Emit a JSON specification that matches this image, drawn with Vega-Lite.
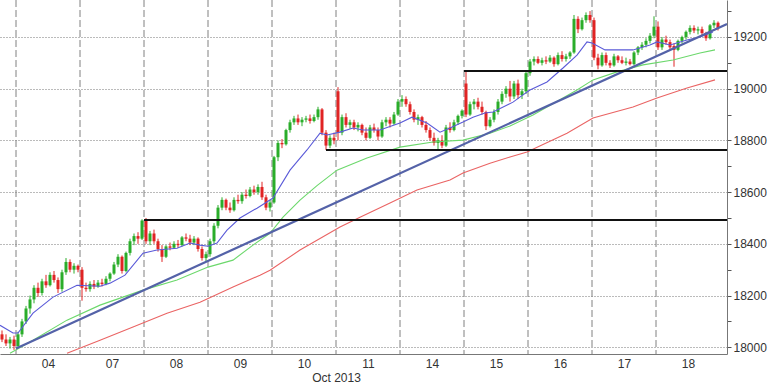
{
 "$schema": "https://vega.github.io/schema/vega-lite/v6.json",
 "width": 727, "height": 354,
 "autosize": {"type": "none"},
 "padding": {"left": 0, "top": 0, "right": 41, "bottom": 30},
 "background": "white",
 "config": {"view": {"stroke": null}, "font": "Liberation Sans",
  "axisY": {"gridDash": [1, 2], "gridColor": "#777", "tickSize": 4, "tickColor": "#555", "domainColor": "#777", "labelColor": "#333", "labelFontSize": 12, "labelFont": "Liberation Sans", "labelPadding": 2}},
 "datasets": {
  "days": [{"i":-0.5},{"i":15.5},{"i":31.5},{"i":47.5},{"i":63.5},{"i":79.5},{"i":95.5},{"i":111.5},{"i":127.5},{"i":143.5},{"i":159.5}],
  "levels": [{"i":31.5,"i2":177.25,"p":18492},{"i":77,"i2":177.25,"p":18763},{"i":111.5,"i2":177.25,"p":19068}],
  "trend": [{"i":-0.5,"p":17995},{"i":177.25,"p":19250}],
  "ma": [
   {"i":-4.5,"p":18085,"s":"a"},{"i":-1.25,"p":18055,"s":"a"},{"i":0,"p":18055,"s":"a"},{"i":3.75,"p":18132,"s":"a"},{"i":8.75,"p":18194,"s":"a"},{"i":14.75,"p":18240,"s":"a"},{"i":20.5,"p":18236,"s":"a"},{"i":23,"p":18248,"s":"a"},{"i":26.75,"p":18279,"s":"a"},{"i":31.25,"p":18364,"s":"a"},{"i":34.75,"p":18376,"s":"a"},{"i":39.75,"p":18383,"s":"a"},{"i":43,"p":18403,"s":"a"},{"i":45.5,"p":18395,"s":"a"},{"i":47.5,"p":18391,"s":"a"},{"i":49.75,"p":18403,"s":"a"},{"i":52.25,"p":18453,"s":"a"},{"i":55.5,"p":18500,"s":"a"},{"i":59.75,"p":18538,"s":"a"},{"i":63.75,"p":18577,"s":"a"},{"i":68,"p":18685,"s":"a"},{"i":72.25,"p":18763,"s":"a"},{"i":75.5,"p":18828,"s":"a"},{"i":77.25,"p":18821,"s":"a"},{"i":80.5,"p":18832,"s":"a"},{"i":83.75,"p":18848,"s":"a"},{"i":86.25,"p":18840,"s":"a"},{"i":90.5,"p":18840,"s":"a"},{"i":95.5,"p":18867,"s":"a"},{"i":98.5,"p":18890,"s":"a"},{"i":102.25,"p":18867,"s":"a"},{"i":105.5,"p":18832,"s":"a"},{"i":108,"p":18848,"s":"a"},{"i":111.25,"p":18871,"s":"a"},{"i":113.75,"p":18890,"s":"a"},{"i":116.75,"p":18906,"s":"a"},{"i":118.75,"p":18910,"s":"a"},{"i":123.75,"p":18948,"s":"a"},{"i":126.25,"p":18976,"s":"a"},{"i":128,"p":18995,"s":"a"},{"i":132.25,"p":19026,"s":"a"},{"i":136.25,"p":19080,"s":"a"},{"i":139.75,"p":19130,"s":"a"},{"i":142.25,"p":19181,"s":"a"},{"i":143.5,"p":19177,"s":"a"},{"i":146.75,"p":19150,"s":"a"},{"i":149.75,"p":19150,"s":"a"},{"i":153.75,"p":19150,"s":"a"},{"i":158,"p":19169,"s":"a"},{"i":159.75,"p":19181,"s":"a"},{"i":163,"p":19169,"s":"a"},{"i":167.25,"p":19188,"s":"a"},{"i":170.5,"p":19200,"s":"a"},{"i":173.75,"p":19219,"s":"a"},
   {"i":-2,"p":17977,"s":"b"},{"i":3.75,"p":18027,"s":"b"},{"i":12.25,"p":18105,"s":"b"},{"i":20.5,"p":18163,"s":"b"},{"i":31.25,"p":18221,"s":"b"},{"i":39.75,"p":18260,"s":"b"},{"i":47.5,"p":18310,"s":"b"},{"i":53.75,"p":18337,"s":"b"},{"i":58.75,"p":18395,"s":"b"},{"i":63,"p":18441,"s":"b"},{"i":66.25,"p":18503,"s":"b"},{"i":70.5,"p":18569,"s":"b"},{"i":74.75,"p":18625,"s":"b"},{"i":79.75,"p":18685,"s":"b"},{"i":87.25,"p":18732,"s":"b"},{"i":95.5,"p":18774,"s":"b"},{"i":103.75,"p":18794,"s":"b"},{"i":111.25,"p":18801,"s":"b"},{"i":118,"p":18828,"s":"b"},{"i":123,"p":18856,"s":"b"},{"i":128.75,"p":18898,"s":"b"},{"i":139.75,"p":18995,"s":"b"},{"i":143.75,"p":19034,"s":"b"},{"i":149.75,"p":19065,"s":"b"},{"i":156.25,"p":19092,"s":"b"},{"i":163.75,"p":19111,"s":"b"},{"i":170.5,"p":19138,"s":"b"},{"i":174.25,"p":19150,"s":"b"},
   {"i":12.25,"p":17977,"s":"c"},{"i":20.5,"p":18027,"s":"c"},{"i":28.75,"p":18078,"s":"c"},{"i":37.25,"p":18132,"s":"c"},{"i":45.5,"p":18174,"s":"c"},{"i":53.75,"p":18233,"s":"c"},{"i":60.5,"p":18279,"s":"c"},{"i":63,"p":18298,"s":"c"},{"i":70.5,"p":18376,"s":"c"},{"i":80.5,"p":18465,"s":"c"},{"i":85.5,"p":18503,"s":"c"},{"i":93,"p":18558,"s":"c"},{"i":99.75,"p":18608,"s":"c"},{"i":108,"p":18647,"s":"c"},{"i":111.25,"p":18674,"s":"c"},{"i":118,"p":18712,"s":"c"},{"i":123,"p":18736,"s":"c"},{"i":127.25,"p":18755,"s":"c"},{"i":137.25,"p":18828,"s":"c"},{"i":143.75,"p":18887,"s":"c"},{"i":153.75,"p":18929,"s":"c"},{"i":159.75,"p":18964,"s":"c"},{"i":167.25,"p":19003,"s":"c"},{"i":174.25,"p":19034,"s":"c"}
  ],
  "candles": [
   {"i":-4,"o":18050,"h":18065,"l":18020,"c":18030},{"i":-3,"o":18030,"h":18050,"l":18005,"c":18015},{"i":-2,"o":18015,"h":18040,"l":17995,"c":18030},{"i":-1,"o":18030,"h":18045,"l":17990,"c":18005},
   {"i":0,"o":18005,"h":18060,"l":17995,"c":18050},{"i":1,"o":18050,"h":18110,"l":18040,"c":18100},{"i":2,"o":18100,"h":18160,"l":18090,"c":18150},{"i":3,"o":18150,"h":18200,"l":18130,"c":18185},{"i":4,"o":18185,"h":18240,"l":18170,"c":18230},{"i":5,"o":18230,"h":18250,"l":18195,"c":18210},{"i":6,"o":18210,"h":18265,"l":18200,"c":18255},{"i":7,"o":18255,"h":18280,"l":18230,"c":18240},{"i":8,"o":18240,"h":18290,"l":18235,"c":18280},{"i":9,"o":18280,"h":18295,"l":18250,"c":18260},{"i":10,"o":18260,"h":18270,"l":18210,"c":18225},{"i":11,"o":18225,"h":18300,"l":18215,"c":18290},{"i":12,"o":18290,"h":18345,"l":18280,"c":18330},{"i":13,"o":18330,"h":18340,"l":18290,"c":18300},{"i":14,"o":18300,"h":18325,"l":18285,"c":18315},{"i":15,"o":18315,"h":18320,"l":18290,"c":18300},
   {"i":16,"o":18300,"h":18310,"l":18180,"c":18230},{"i":17,"o":18230,"h":18250,"l":18215,"c":18225},{"i":18,"o":18225,"h":18255,"l":18215,"c":18245},{"i":19,"o":18245,"h":18260,"l":18225,"c":18235},{"i":20,"o":18235,"h":18260,"l":18230,"c":18250},{"i":21,"o":18250,"h":18265,"l":18235,"c":18245},{"i":22,"o":18245,"h":18275,"l":18240,"c":18265},{"i":23,"o":18265,"h":18290,"l":18255,"c":18285},{"i":24,"o":18285,"h":18330,"l":18280,"c":18320},{"i":25,"o":18320,"h":18360,"l":18310,"c":18350},{"i":26,"o":18350,"h":18355,"l":18285,"c":18295},{"i":27,"o":18295,"h":18370,"l":18290,"c":18365},{"i":28,"o":18365,"h":18420,"l":18355,"c":18410},{"i":29,"o":18410,"h":18440,"l":18395,"c":18430},{"i":30,"o":18430,"h":18445,"l":18400,"c":18420},{"i":31,"o":18420,"h":18495,"l":18415,"c":18490},
   {"i":32,"o":18490,"h":18500,"l":18400,"c":18410},{"i":33,"o":18410,"h":18450,"l":18395,"c":18440},{"i":34,"o":18440,"h":18455,"l":18400,"c":18410},{"i":35,"o":18410,"h":18420,"l":18370,"c":18380},{"i":36,"o":18380,"h":18395,"l":18330,"c":18350},{"i":37,"o":18350,"h":18395,"l":18345,"c":18390},{"i":38,"o":18390,"h":18405,"l":18375,"c":18385},{"i":39,"o":18385,"h":18410,"l":18380,"c":18400},{"i":40,"o":18400,"h":18415,"l":18385,"c":18395},{"i":41,"o":18395,"h":18430,"l":18390,"c":18425},{"i":42,"o":18425,"h":18440,"l":18410,"c":18420},{"i":43,"o":18420,"h":18435,"l":18395,"c":18405},{"i":44,"o":18405,"h":18430,"l":18395,"c":18420},{"i":45,"o":18420,"h":18425,"l":18370,"c":18380},{"i":46,"o":18380,"h":18390,"l":18335,"c":18345},{"i":47,"o":18345,"h":18370,"l":18330,"c":18360},
   {"i":48,"o":18360,"h":18420,"l":18350,"c":18410},{"i":49,"o":18410,"h":18480,"l":18400,"c":18470},{"i":50,"o":18470,"h":18550,"l":18460,"c":18540},{"i":51,"o":18540,"h":18580,"l":18530,"c":18570},{"i":52,"o":18570,"h":18575,"l":18530,"c":18540},{"i":53,"o":18540,"h":18560,"l":18520,"c":18530},{"i":54,"o":18530,"h":18580,"l":18525,"c":18570},{"i":55,"o":18570,"h":18590,"l":18555,"c":18565},{"i":56,"o":18565,"h":18600,"l":18555,"c":18590},{"i":57,"o":18590,"h":18610,"l":18575,"c":18585},{"i":58,"o":18585,"h":18620,"l":18580,"c":18610},{"i":59,"o":18610,"h":18625,"l":18590,"c":18600},{"i":60,"o":18600,"h":18630,"l":18590,"c":18620},{"i":61,"o":18620,"h":18640,"l":18570,"c":18580},{"i":62,"o":18580,"h":18590,"l":18530,"c":18540},{"i":63,"o":18540,"h":18570,"l":18525,"c":18560},
   {"i":64,"o":18560,"h":18740,"l":18555,"c":18735},{"i":65,"o":18735,"h":18800,"l":18720,"c":18790},{"i":66,"o":18790,"h":18805,"l":18770,"c":18785},{"i":67,"o":18785,"h":18845,"l":18780,"c":18840},{"i":68,"o":18840,"h":18880,"l":18830,"c":18870},{"i":69,"o":18870,"h":18895,"l":18860,"c":18885},{"i":70,"o":18885,"h":18900,"l":18860,"c":18870},{"i":71,"o":18870,"h":18890,"l":18855,"c":18880},{"i":72,"o":18880,"h":18895,"l":18870,"c":18885},{"i":73,"o":18885,"h":18900,"l":18865,"c":18875},{"i":74,"o":18875,"h":18900,"l":18870,"c":18890},{"i":75,"o":18890,"h":18930,"l":18880,"c":18920},{"i":76,"o":18920,"h":18925,"l":18820,"c":18830},{"i":77,"o":18830,"h":18840,"l":18763,"c":18780},{"i":78,"o":18780,"h":18820,"l":18770,"c":18810},{"i":79,"o":18810,"h":18830,"l":18785,"c":18800},
   {"i":80,"o":18990,"h":19006,"l":18800,"c":18830},{"i":81,"o":18830,"h":18900,"l":18820,"c":18890},{"i":82,"o":18890,"h":18905,"l":18850,"c":18860},{"i":83,"o":18860,"h":18880,"l":18845,"c":18870},{"i":84,"o":18870,"h":18880,"l":18840,"c":18850},{"i":85,"o":18850,"h":18870,"l":18835,"c":18860},{"i":86,"o":18860,"h":18865,"l":18820,"c":18830},{"i":87,"o":18830,"h":18850,"l":18800,"c":18810},{"i":88,"o":18810,"h":18860,"l":18805,"c":18850},{"i":89,"o":18850,"h":18865,"l":18830,"c":18840},{"i":90,"o":18840,"h":18850,"l":18800,"c":18815},{"i":91,"o":18815,"h":18880,"l":18810,"c":18870},{"i":92,"o":18870,"h":18890,"l":18855,"c":18880},{"i":93,"o":18880,"h":18890,"l":18850,"c":18865},{"i":94,"o":18865,"h":18910,"l":18860,"c":18900},{"i":95,"o":18900,"h":18960,"l":18895,"c":18950},
   {"i":96,"o":18950,"h":18975,"l":18930,"c":18960},{"i":97,"o":18960,"h":18970,"l":18930,"c":18940},{"i":98,"o":18940,"h":18950,"l":18900,"c":18910},{"i":99,"o":18910,"h":18920,"l":18870,"c":18880},{"i":100,"o":18880,"h":18900,"l":18860,"c":18890},{"i":101,"o":18890,"h":18895,"l":18850,"c":18860},{"i":102,"o":18860,"h":18875,"l":18830,"c":18840},{"i":103,"o":18840,"h":18850,"l":18800,"c":18810},{"i":104,"o":18810,"h":18830,"l":18780,"c":18790},{"i":105,"o":18790,"h":18810,"l":18765,"c":18800},{"i":106,"o":18800,"h":18820,"l":18770,"c":18780},{"i":107,"o":18780,"h":18860,"l":18775,"c":18850},{"i":108,"o":18850,"h":18870,"l":18830,"c":18840},{"i":109,"o":18840,"h":18880,"l":18835,"c":18870},{"i":110,"o":18870,"h":18900,"l":18860,"c":18895},{"i":111,"o":18895,"h":18920,"l":18885,"c":18915},
   {"i":112,"o":19020,"h":19065,"l":18890,"c":18900},{"i":113,"o":18900,"h":18950,"l":18895,"c":18940},{"i":114,"o":18940,"h":18960,"l":18920,"c":18950},{"i":115,"o":18950,"h":18965,"l":18920,"c":18930},{"i":116,"o":18930,"h":18950,"l":18900,"c":18910},{"i":117,"o":18910,"h":18915,"l":18840,"c":18855},{"i":118,"o":18855,"h":18890,"l":18850,"c":18880},{"i":119,"o":18880,"h":18920,"l":18870,"c":18910},{"i":120,"o":18910,"h":18960,"l":18900,"c":18950},{"i":121,"o":18950,"h":18990,"l":18940,"c":18980},{"i":122,"o":18980,"h":19010,"l":18965,"c":19000},{"i":123,"o":19000,"h":19030,"l":18950,"c":18970},{"i":124,"o":18970,"h":19030,"l":18960,"c":19020},{"i":125,"o":19020,"h":19035,"l":18960,"c":18975},{"i":126,"o":18975,"h":19000,"l":18960,"c":18990},{"i":127,"o":18990,"h":19070,"l":18980,"c":19060},
   {"i":128,"o":19060,"h":19115,"l":19050,"c":19105},{"i":129,"o":19105,"h":19125,"l":19090,"c":19115},{"i":130,"o":19115,"h":19125,"l":19095,"c":19100},{"i":131,"o":19100,"h":19120,"l":19090,"c":19110},{"i":132,"o":19110,"h":19125,"l":19095,"c":19105},{"i":133,"o":19105,"h":19130,"l":19100,"c":19120},{"i":134,"o":19120,"h":19125,"l":19085,"c":19095},{"i":135,"o":19095,"h":19140,"l":19090,"c":19130},{"i":136,"o":19130,"h":19145,"l":19105,"c":19115},{"i":137,"o":19115,"h":19135,"l":19105,"c":19125},{"i":138,"o":19125,"h":19145,"l":19115,"c":19140},{"i":139,"o":19140,"h":19285,"l":19135,"c":19270},{"i":140,"o":19270,"h":19280,"l":19215,"c":19230},{"i":141,"o":19230,"h":19275,"l":19225,"c":19265},{"i":142,"o":19265,"h":19295,"l":19255,"c":19285},{"i":143,"o":19285,"h":19300,"l":19255,"c":19265},
   {"i":144,"o":19265,"h":19275,"l":19110,"c":19120},{"i":145,"o":19120,"h":19135,"l":19075,"c":19090},{"i":146,"o":19090,"h":19140,"l":19085,"c":19130},{"i":147,"o":19130,"h":19140,"l":19090,"c":19100},{"i":148,"o":19100,"h":19110,"l":19080,"c":19090},{"i":149,"o":19090,"h":19135,"l":19085,"c":19125},{"i":150,"o":19125,"h":19130,"l":19100,"c":19110},{"i":151,"o":19110,"h":19125,"l":19095,"c":19100},{"i":152,"o":19100,"h":19120,"l":19090,"c":19105},{"i":153,"o":19105,"h":19115,"l":19090,"c":19095},{"i":154,"o":19095,"h":19145,"l":19090,"c":19140},{"i":155,"o":19140,"h":19165,"l":19130,"c":19160},{"i":156,"o":19160,"h":19180,"l":19150,"c":19170},{"i":157,"o":19170,"h":19195,"l":19160,"c":19185},{"i":158,"o":19185,"h":19215,"l":19175,"c":19205},{"i":159,"o":19205,"h":19280,"l":19195,"c":19240},
   {"i":160,"o":19240,"h":19260,"l":19150,"c":19160},{"i":161,"o":19160,"h":19200,"l":19150,"c":19190},{"i":162,"o":19190,"h":19205,"l":19170,"c":19180},{"i":163,"o":19180,"h":19190,"l":19150,"c":19160},{"i":164,"o":19165,"h":19175,"l":19085,"c":19150},{"i":165,"o":19150,"h":19190,"l":19145,"c":19185},{"i":166,"o":19185,"h":19205,"l":19175,"c":19200},{"i":167,"o":19200,"h":19225,"l":19190,"c":19220},{"i":168,"o":19220,"h":19245,"l":19210,"c":19235},{"i":169,"o":19235,"h":19245,"l":19215,"c":19225},{"i":170,"o":19225,"h":19240,"l":19210,"c":19230},{"i":171,"o":19230,"h":19240,"l":19205,"c":19215},{"i":172,"o":19215,"h":19220,"l":19185,"c":19195},{"i":173,"o":19195,"h":19250,"l":19190,"c":19245},{"i":174,"o":19245,"h":19265,"l":19235,"c":19255},{"i":175,"o":19255,"h":19260,"l":19225,"c":19235}
  ]
 },
 "encoding": {
  "x": {"field": "i", "type": "quantitative",
   "scale": {"domain": [-4.5, 177.25], "nice": false, "zero": false, "padding": 0},
   "axis": {"values": [7.5,23.5,39.5,55.5,71.5,87.5,103.5,119.5,135.5,151.5,167.5],
    "labelExpr": "['04','07','08','09','10','11','14','15','16','17','18'][round((datum.value-7.5)/16)]",
    "grid": false, "ticks": false, "domainColor": "#777", "labelColor": "#333", "labelFontSize": 12,
    "labelPadding": 4, "labelFont": "Liberation Sans",
    "title": "Oct 2013", "titleX": 336, "titleY": 27, "titleBaseline": "alphabetic", "titleAlign": "center", "titleAnchor": null,
    "titleFontWeight": "normal", "titleFontSize": 12, "titleColor": "#333", "titleFont": "Liberation Sans"}}
 },
 "layer": [
  {"data": {"name": "days"}, "mark": {"type": "rule", "color": "#808080", "strokeDash": [7, 3], "strokeWidth": 1}, "encoding": {}},
  {"data": {"name": "candles"}, "mark": {"type": "rule", "strokeWidth": 1, "clip": true},
   "encoding": {
    "y": {"field": "l", "type": "quantitative", "title": null,
     "scale": {"domain": [17974, 19343], "nice": false, "zero": false, "padding": 0},
     "axis": {"orient": "right", "title": null, "values": [18000,18100,18200,18300,18400,18500,18600,18700,18800,18900,19000,19100,19200,19300],
      "format": "d", "labelExpr": "datum.value % 200 == 0 ? datum.label : ''",
      "gridOpacity": {"condition": {"test": "datum.value % 200 != 0", "value": 0}, "value": 1}}},
    "y2": {"field": "h"},
    "color": {"condition": {"test": "datum.c >= datum.o", "value": "#2aad2a"}, "value": "#e02424"}}},
  {"data": {"name": "candles"}, "mark": {"type": "bar", "size": 3, "clip": true},
   "encoding": {
    "y": {"field": "o", "type": "quantitative", "title": null,
     "scale": {"domain": [17974, 19343], "nice": false, "zero": false, "padding": 0},
     "axis": {"orient": "right", "title": null, "values": [18000,18100,18200,18300,18400,18500,18600,18700,18800,18900,19000,19100,19200,19300],
      "format": "d", "labelExpr": "datum.value % 200 == 0 ? datum.label : ''",
      "gridOpacity": {"condition": {"test": "datum.value % 200 != 0", "value": 0}, "value": 1}}},
    "y2": {"field": "c"},
    "color": {"condition": {"test": "datum.c >= datum.o", "value": "#2aad2a"}, "value": "#e02424"}}},
  {"data": {"name": "ma"}, "mark": {"type": "line", "strokeWidth": 1.1, "clip": true},
   "encoding": {
    "y": {"field": "p", "type": "quantitative", "title": null,
     "scale": {"domain": [17974, 19343], "nice": false, "zero": false, "padding": 0},
     "axis": {"orient": "right", "title": null, "values": [18000,18100,18200,18300,18400,18500,18600,18700,18800,18900,19000,19100,19200,19300],
      "format": "d", "labelExpr": "datum.value % 200 == 0 ? datum.label : ''",
      "gridOpacity": {"condition": {"test": "datum.value % 200 != 0", "value": 0}, "value": 1}}},
    "color": {"field": "s", "type": "nominal", "legend": null,
     "scale": {"domain": ["a", "b", "c"], "range": ["#5a5ad8", "#6cd86c", "#ea6464"]}}}},
  {"data": {"name": "trend"}, "mark": {"type": "line", "strokeWidth": 2.2, "color": "#5462a8", "clip": true},
   "encoding": {"y": {"field": "p", "type": "quantitative", "title": null,
     "scale": {"domain": [17974, 19343], "nice": false, "zero": false, "padding": 0},
     "axis": {"orient": "right", "title": null, "values": [18000,18100,18200,18300,18400,18500,18600,18700,18800,18900,19000,19100,19200,19300],
      "format": "d", "labelExpr": "datum.value % 200 == 0 ? datum.label : ''",
      "gridOpacity": {"condition": {"test": "datum.value % 200 != 0", "value": 0}, "value": 1}}}}},
  {"data": {"name": "levels"}, "mark": {"type": "rule", "strokeWidth": 2, "color": "#111111"},
   "encoding": {"x2": {"field": "i2"}, "y": {"field": "p", "type": "quantitative", "title": null,
     "scale": {"domain": [17974, 19343], "nice": false, "zero": false, "padding": 0},
     "axis": {"orient": "right", "title": null, "values": [18000,18100,18200,18300,18400,18500,18600,18700,18800,18900,19000,19100,19200,19300],
      "format": "d", "labelExpr": "datum.value % 200 == 0 ? datum.label : ''",
      "gridOpacity": {"condition": {"test": "datum.value % 200 != 0", "value": 0}, "value": 1}}}}}
 ]
}
